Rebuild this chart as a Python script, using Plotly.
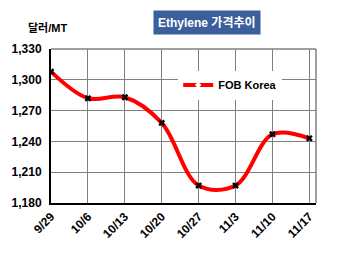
import plotly.graph_objects as go

categories = ["9/29", "10/6", "10/13", "10/20", "10/27", "11/3", "11/10", "11/17"]
fob_korea = [1308, 1282, 1283, 1258, 1197, 1197, 1247, 1243]
y_ticks = [1180, 1210, 1240, 1270, 1300, 1330]
y_tick_labels = ["1,180", "1,210", "1,240", "1,270", "1,300", "1,330"]
series_name = "FOB Korea"
title_text = "Ethylene 가격추이"
y_unit = "달러/MT"

FONT = "Liberation Sans, Arial, Noto Sans CJK KR, sans-serif"
xpos = list(range(len(categories)))

fig = go.Figure()
fig.add_trace(go.Scatter(
    x=xpos, y=fob_korea, mode="lines+markers", showlegend=False,
    line=dict(color="#FF0000", width=4, shape="spline", smoothing=1.0),
    marker=dict(symbol="x", size=6, color="black", line=dict(width=0)),
))
# legend entry (red line with white marker)
fig.add_trace(go.Scatter(
    x=[None], y=[None], mode="lines+markers", name=series_name,
    line=dict(color="#FF0000", width=4),
    marker=dict(symbol="diamond", size=5, color="white", line=dict(width=0)),
))

fig.update_layout(
    width=350, height=253,
    margin=dict(l=45, r=34, t=49, b=49),
    paper_bgcolor="white", plot_bgcolor="white",
    font=dict(family=FONT, size=12, color="black"),
    showlegend=True,
    legend=dict(
        x=0.48, y=0.86, xanchor="left", yanchor="top",
        bgcolor="white", borderwidth=0,
        font=dict(family=FONT, size=11, color="black", weight="bold"),
        itemwidth=30, tracegroupgap=0,
    ),
    xaxis=dict(
        range=[0, 7.18], tickmode="array", tickvals=xpos, ticktext=categories,
        tickangle=-45, showgrid=True, gridcolor="#808080", gridwidth=1,
        showline=True, linecolor="black", linewidth=2, mirror=False,
        ticks="", zeroline=False,
        tickfont=dict(family=FONT, size=12, color="black", weight="bold"),
    ),
    yaxis=dict(
        range=[1180, 1330], tickmode="array", tickvals=y_ticks, ticktext=y_tick_labels,
        showgrid=True, gridcolor="#808080", gridwidth=1,
        showline=True, linecolor="black", linewidth=2,
        ticks="", zeroline=False, ticklabelstandoff=5,
        tickfont=dict(family=FONT, size=12, color="black", weight="bold"),
    ),
    shapes=[
        dict(type="line", xref="paper", yref="paper", x0=0, x1=1, y0=1, y1=1,
             line=dict(color="#808080", width=1.5)),
        dict(type="line", xref="paper", yref="paper", x0=1, x1=1, y0=0, y1=1,
             line=dict(color="#808080", width=1.5)),
    ],
    annotations=[
        dict(text="<b>" + title_text + "</b>", xref="paper", yref="paper",
             x=0.59, y=1.174, xanchor="center", yanchor="middle", showarrow=False,
             bgcolor="#3A5F9A", font=dict(family=FONT, size=12, color="white"),
             borderpad=4),
        dict(text="<b>" + y_unit + "</b>", xref="paper", yref="paper",
             x=-0.095, y=1.135, xanchor="left", yanchor="middle", showarrow=False,
             font=dict(family=FONT, size=11, color="black")),
    ],
)

fig.write_html("out.html")
